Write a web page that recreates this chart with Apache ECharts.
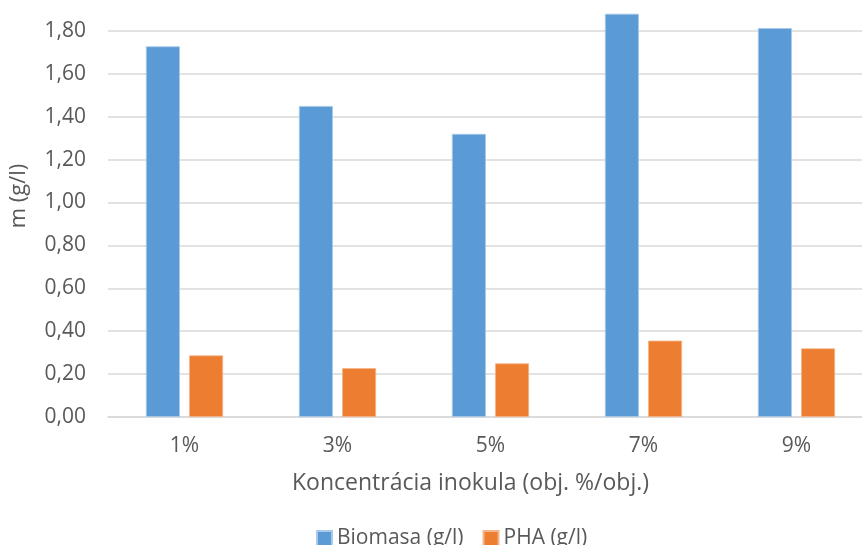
<!DOCTYPE html>
<html>
<head>
<meta charset="utf-8">
<script src="https://cdn.jsdelivr.net/npm/echarts@6/dist/echarts.min.js"></script>
<style>
html,body{margin:0;padding:0;background:#fff;}
#c{width:862px;height:545px;}
</style>
</head>
<body>
<div id="c"></div>
<script>
const categories = ['1%', '3%', '5%', '7%', '9%'];
const biomasa = [1.728, 1.45, 1.32, 1.88, 1.813];
const pha = [0.287, 0.228, 0.25, 0.356, 0.32];
const seriesNames = ['Biomasa (g/l)', 'PHA (g/l)'];
const yTitle = 'm (g/l)';
const xTitle = 'Koncentrácia inokula (obj. %/obj.)';

const FONT = 'Open Sans';
const TXT = '#595959';
const chart = echarts.init(document.getElementById('c'), null, {renderer: 'canvas'});
chart.setOption({
  animation: false,
  backgroundColor: '#ffffff',
  color: ['#5b9bd5', '#ed7d31'],
  grid: {left: 108, right: -11, top: -12, bottom: 128, containLabel: false, outerBoundsMode: 'none'},
  legend: {
    data: seriesNames,
    left: 311, top: 523,
    itemWidth: 15, itemHeight: 15, itemGap: 19,
    icon: 'rect',
    textStyle: {fontFamily: FONT, fontSize: 21, color: TXT}
  },
  xAxis: {
    type: 'category',
    data: categories,
    name: xTitle,
    nameLocation: 'middle',
    nameGap: 55,
    nameTextStyle: {fontFamily: FONT, fontSize: 23, color: TXT, padding: [0, 40, 0, 0]},
    axisLine: {show: true, lineStyle: {color: '#d9d9d9', width: 1.5}},
    axisTick: {show: false},
    axisLabel: {fontFamily: FONT, fontSize: 21, color: TXT, margin: 19}
  },
  yAxis: {
    type: 'value',
    min: 0, max: 2.0, interval: 0.2,
    name: yTitle,
    nameLocation: 'middle',
    nameGap: 78,
    nameRotate: 90,
    nameTextStyle: {fontFamily: FONT, fontSize: 22, color: TXT, padding: [0, 0, 0, 13]},
    axisLine: {show: false},
    axisTick: {show: false},
    splitLine: {lineStyle: {color: '#d9d9d9', width: 1.5}},
    axisLabel: {
      fontFamily: FONT, fontSize: 21, color: TXT, margin: 22,
      formatter: v => v.toFixed(2).replace('.', ',')
    }
  },
  series: [
    {name: seriesNames[0], type: 'bar', data: biomasa, barWidth: 34, barGap: '27%',
     itemStyle: {color: '#5b9bd5', borderColor: '#a9c9ea', borderWidth: 0.8}},
    {name: seriesNames[1], type: 'bar', data: pha, barWidth: 34, barGap: '27%',
     itemStyle: {color: '#ed7d31', borderColor: '#f5b58a', borderWidth: 0.8}}
  ]
});
</script>
</body>
</html>
